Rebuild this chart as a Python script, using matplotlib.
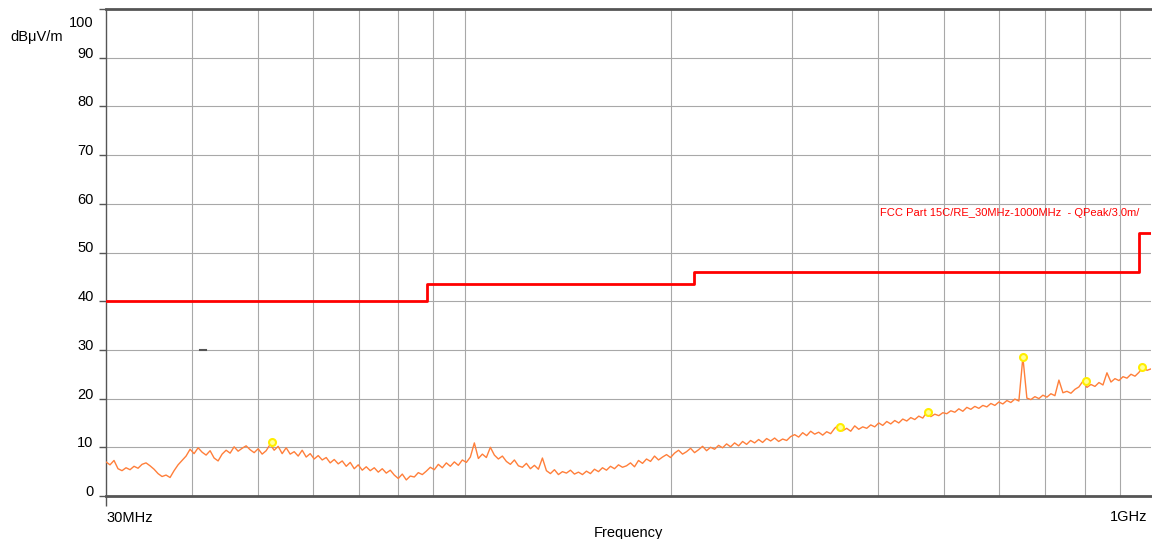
import numpy as np
import matplotlib
matplotlib.use("Agg")
import matplotlib.pyplot as plt
import matplotlib.transforms as mtransforms

plt.rcParams['font.family'] = ['Liberation Sans', 'DejaVu Sans']

# Measured level, dBuV/m (log-spaced sweep 30 MHz .. 1 GHz)
level = [
    7.0, 6.4, 7.3, 5.6, 5.2, 5.8, 5.4, 6.1, 5.7, 6.5,
    6.8, 6.2, 5.5, 4.6, 4.0, 4.3, 3.8, 5.2, 6.4, 7.3,
    8.2, 9.6, 8.7, 9.9, 9.0, 8.4, 9.3, 7.8, 7.2, 8.6,
    9.4, 8.8, 10.1, 9.2, 9.8, 10.3, 9.5, 8.9, 9.7, 8.6,
    9.3, 10.6, 9.4, 10.2, 8.7, 9.9, 8.6, 9.1, 8.2, 9.4,
    8.0, 8.7, 7.6, 8.3, 7.4, 7.9, 6.8, 7.5, 6.6, 7.2,
    6.1, 6.9, 5.6, 6.4, 5.3, 6.0, 5.2, 5.8, 4.9, 5.6,
    4.7, 5.3, 4.3, 3.6, 4.5, 3.3, 4.1, 3.9, 4.8, 4.4,
    5.1, 5.9, 5.4, 6.5, 5.8, 6.8, 6.1, 7.0, 6.3, 7.4,
    6.9, 8.0, 10.9, 7.7, 8.6, 7.9, 10.0, 8.4, 7.6, 8.2,
    7.1, 6.5, 7.4, 6.2, 5.9, 6.7, 5.6, 6.3, 5.5, 7.8,
    5.2, 4.6, 5.4, 4.4, 5.0, 4.7, 5.3, 4.5, 4.9, 4.4,
    5.1, 4.6, 5.5, 5.0, 5.8, 5.3, 6.1, 5.6, 6.4, 5.9,
    6.2, 6.8, 6.0, 7.3, 6.7, 7.6, 7.1, 8.2, 7.4, 8.0,
    8.5, 7.9, 8.8, 9.4, 8.6, 9.1, 9.8, 8.9, 9.5, 10.2,
    9.3, 10.0, 9.6, 10.4, 9.9, 10.7, 10.1, 10.9, 10.3, 11.2,
    10.6, 11.4, 10.9, 11.6, 11.0, 11.8, 11.3, 11.9, 11.2, 11.7,
    11.4, 12.2, 12.6, 12.1, 13.0, 12.4, 13.3, 12.7, 13.1, 12.5,
    13.2, 12.8, 13.9, 14.6, 13.4, 13.9, 13.3, 14.4, 13.7, 14.2,
    13.9, 14.6, 14.2, 15.0, 14.5, 15.3, 14.8, 15.5, 15.0, 15.8,
    15.4, 16.1, 15.7, 16.4, 16.0, 17.2, 16.3, 16.8, 16.5, 17.1,
    16.9, 17.5, 17.2, 17.9, 17.4, 18.2, 17.8, 18.4, 18.0, 18.6,
    18.3, 19.0, 18.6, 19.3, 18.9, 19.6, 19.2, 19.9, 19.5, 28.5,
    20.1, 19.8, 20.4, 20.0, 20.7, 20.3, 21.0, 20.6, 23.8, 21.2,
    21.5, 21.1, 21.9, 22.4, 23.6, 22.3, 22.9, 22.5, 23.3, 22.8,
    25.3, 23.4, 24.1, 23.7, 24.5, 24.2, 25.0, 24.6, 25.4, 26.5,
    25.8, 26.1,
]
freq = np.geomspace(30, 1000, len(level))

# FCC limit (QPeak, 3 m)
limit_f = [30, 88, 88, 216, 216, 960, 960, 1000]
limit_db = [40, 40, 43.5, 43.5, 46, 46, 54, 54]
limit_label = "FCC Part 15C/RE_30MHz-1000MHz  - QPeak/3.0m/"

# Peak markers
peak_f = [52.4, 352, 473, 650.8, 804, 970]
peak_db = [11.1, 14.2, 17.2, 28.5, 23.6, 26.5]

# small dash near 30 dB
dash_f = [41.1, 42.0]
dash_db = [30, 30]

yticks = [0, 10, 20, 30, 40, 50, 60, 70, 80, 90, 100]
xgrid = [40, 50, 60, 70, 80, 90, 100, 200, 300, 400, 500, 600, 700, 800, 900]

fig = plt.figure(figsize=(11.52, 5.39), dpi=100)
ax = fig.add_axes([106/1152, 43/539, 1045/1152, 487/539])

ax.set_xscale('log')
ax.set_xlim(30, 1000)
ax.set_ylim(0, 100)

# grid
for g in xgrid:
    ax.axvline(g, color='#a8a8a8', lw=0.8, zorder=0)
for g in yticks[1:-1]:
    ax.axhline(g, color='#a8a8a8', lw=0.8, zorder=0)

ax.plot(freq, level, color='#ff7f3a', lw=1.0, zorder=3)
ax.plot(limit_f, limit_db, color='#ff0000', lw=2.0, zorder=4)
ax.plot(peak_f, peak_db, 'o', ms=5, mfc='#ffff99', mec='#ffee00', mew=1.5, zorder=5)
ax.plot(dash_f, dash_db, color='#555555', lw=1.5, zorder=4)

ax.text(0.7407, 0.581, limit_label, transform=ax.transAxes, color='#ff0000',
        fontsize=8, va='center', ha='left', clip_on=False)

# axes styling
ax.spines['right'].set_visible(False)
ax.spines['left'].set_color('#555555')
ax.spines['left'].set_linewidth(1.0)
ax.spines['bottom'].set_color('#555555')
ax.spines['bottom'].set_linewidth(2.0)
ax.spines['top'].set_color('#555555')
ax.spines['top'].set_linewidth(2.0)

ax.set_yticks(yticks)
ax.set_yticklabels([str(v) for v in yticks])
ax.tick_params(axis='y', length=5, width=1, color='#555555', pad=4, labelsize=10.5)
for lab in ax.get_yticklabels():
    dy = 4 / 72
    if lab.get_text() == '100':
        dy = -9 / 72
    lab.set_transform(lab.get_transform() + mtransforms.ScaledTranslation(0, dy, fig.dpi_scale_trans))

ax.set_xticks([30])
ax.set_xticklabels([''])
ax.xaxis.set_minor_locator(matplotlib.ticker.NullLocator())
ax.tick_params(axis='x', length=7, width=1, color='#555555')

ax.text(0.0, -0.045, "30MHz", transform=ax.transAxes, fontsize=10.5, ha='left', va='center')
ax.text(0.9962, -0.043, "1GHz", transform=ax.transAxes, fontsize=10.5, ha='right', va='center')
ax.text(0.5, -0.077, "Frequency", transform=ax.transAxes, fontsize=10.5, ha='center', va='center')
fig.text(10/1152, 1 - 37/539, "dBμV/m", fontsize=10.5, ha='left', va='center')

fig.savefig('out.png', dpi=100)
